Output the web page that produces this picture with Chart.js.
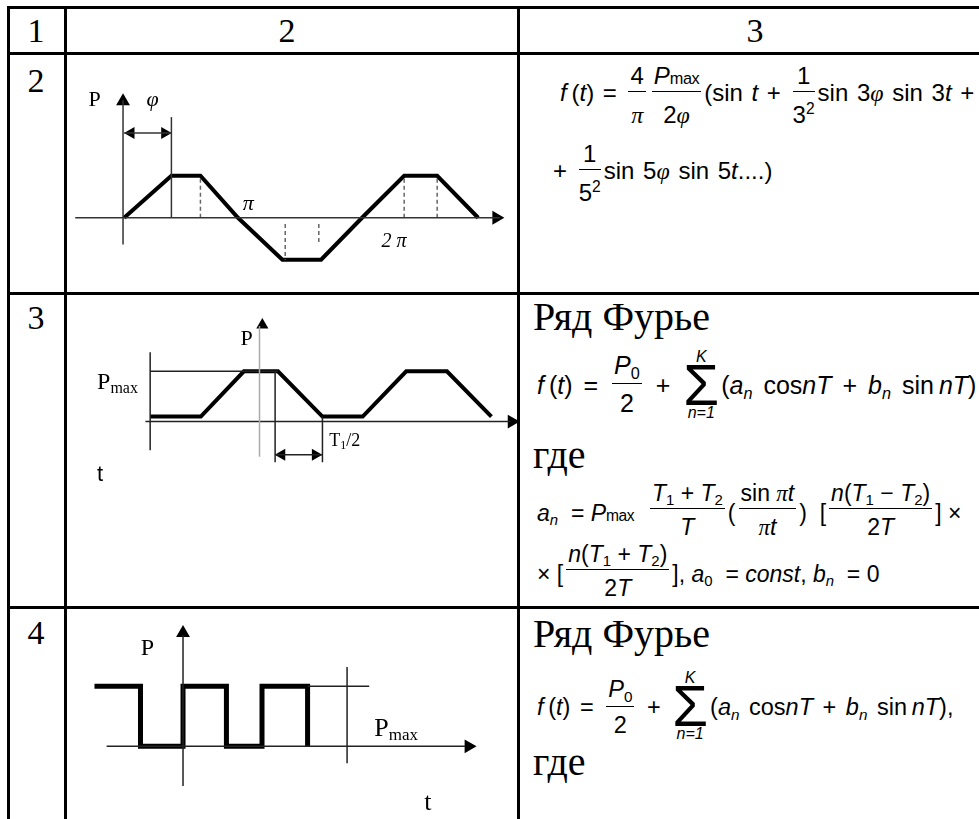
<!DOCTYPE html>
<html>
<head>
<meta charset="utf-8">
<script src="https://cdn.jsdelivr.net/npm/chart.js@4.4.1/dist/chart.umd.min.js"></script>
<style>
  html, body { margin: 0; padding: 0; background: #fff; width: 979px; height: 819px; overflow: hidden; position: relative; }
  .ln { position: absolute; background: #000; }
  .nm { position: absolute; font: 34px "Liberation Serif", "DejaVu Serif", serif; line-height: 34px; transform: translate(-50%, -50%); }
  .f { position: absolute; white-space: nowrap; line-height: 1; font-family: "Liberation Sans", Arial, sans-serif; font-size: 24px; word-spacing: 2px; }
  .f.tm { font-family: "Liberation Serif", "DejaVu Serif", serif; font-size: 40px; word-spacing: 0; }
  .f i { font-style: italic; }
  .g { font-family: "Liberation Serif", "DejaVu Serif", serif; font-style: italic; }
  .mx { font-size: 0.68em; letter-spacing: -0.5px; }
  sup { font-size: 0.65em; vertical-align: 0.55em; line-height: 0; }
  sub { font-size: 0.65em; vertical-align: -0.3em; line-height: 0; }
  .fr { display: inline-block; text-align: center; margin: 0 3px; word-spacing: 0; }
  .fr > span { display: block; line-height: 1; }
  .fr .n { border-bottom: 1px solid #000; padding: 0 2px; }
  .fa { vertical-align: -22px; } .fa .n { padding-bottom: 3px; } .fa .d { padding-top: 11px; }
  .fb { vertical-align: -18px; } .fb .n { padding-bottom: 5px; } .fb .d { padding-top: 7px; }
  .fc { vertical-align: -14px; } .fc .n { padding-bottom: 3px; } .fc .d { padding-top: 7px; }
  .sig { display: inline-block; text-align: center; vertical-align: -24px; margin: 0 2px; word-spacing: 0; }
  .sig > span { display: block; }
  .sig .k { font-size: 16px; line-height: 15px; font-style: italic; }
  .sig .S { font-size: 58px; line-height: 41px; }
  .bl { display: inline-block; width: 0; height: 0; vertical-align: baseline; }
  canvas { position: absolute; }
</style>
</head>
<body>
<div class="ln" style="left:7px;top:6px;width:972px;height:3px"></div>
<div class="ln" style="left:7px;top:52px;width:972px;height:3px"></div>
<div class="ln" style="left:7px;top:292px;width:972px;height:3px"></div>
<div class="ln" style="left:7px;top:606px;width:972px;height:3px"></div>
<div class="ln" style="left:7px;top:6px;width:3px;height:813px"></div>
<div class="ln" style="left:64px;top:6px;width:3px;height:813px"></div>
<div class="ln" style="left:517px;top:6px;width:3px;height:813px"></div>

<div class="nm" style="left:36px;top:31px">1</div>
<div class="nm" style="left:287px;top:31px">2</div>
<div class="nm" style="left:755px;top:31px">3</div>
<div class="nm" style="left:36px;top:81px">2</div>
<div class="nm" style="left:36px;top:318px">3</div>
<div class="nm" style="left:36px;top:633px">4</div>

<!-- строка 2 -->
<div class="f" data-x="560" data-b="101"><i>f</i>&thinsp;(<i>t</i>) = <span class="fr fa"><span class="n">4</span><span class="d"><span class="g">π</span></span></span><span class="fr fa"><span class="n"><i>P</i><span class="mx">max</span></span><span class="d">2<span class="g">φ</span></span></span>(sin <i>t</i> + <span class="fr fa"><span class="n">1</span><span class="d">3<sup>2</sup></span></span>sin 3<span class="g">φ</span> sin 3<i>t</i> +</div>
<div class="f" data-x="553" data-b="179">+ <span class="fr fa"><span class="n">1</span><span class="d">5<sup>2</sup></span></span>sin 5<span class="g">φ</span> sin 5<i>t</i>....)</div>

<!-- строка 3 -->
<div class="f tm" data-x="533" data-b="330">Ряд Фурье</div>
<div class="f" data-x="537" data-b="394" style="font-size:25px;word-spacing:4px"><i>f</i>&thinsp;(<i>t</i>) = <span class="fr fb"><span class="n"><i>P</i><sub>0</sub></span><span class="d">2</span></span> + <span class="sig"><span class="k">K</span><span class="S">Σ</span><span class="k"><i>n</i>=1</span></span>(<i>a<sub>n</sub></i> cos<i>nT</i> + <i>b<sub>n</sub></i> sin&thinsp;<i>nT</i>)</div>
<div class="f tm" data-x="533" data-b="468">где</div>
<div class="f" data-x="537" data-b="521" style="font-size:23px;word-spacing:0"><i>a<sub>n</sub></i> &nbsp;= <i>P</i><span class="mx">max</span> &nbsp;<span class="fr fc"><span class="n"><i>T</i><sub>1</sub> + <i>T</i><sub>2</sub></span><span class="d"><i>T</i></span></span>(<span class="fr fc"><span class="n">sin <span class="g">π</span><i>t</i></span><span class="d"><span class="g">π</span><i>t</i></span></span>) &nbsp;[<span class="fr fc"><span class="n"><i>n</i>(<i>T</i><sub>1</sub> − <i>T</i><sub>2</sub>)</span><span class="d">2<i>T</i></span></span>] ×</div>
<div class="f" data-x="537" data-b="582" style="font-size:23px;word-spacing:0">× [<span class="fr fc"><span class="n"><i>n</i>(<i>T</i><sub>1</sub> + <i>T</i><sub>2</sub>)</span><span class="d">2<i>T</i></span></span>], <i>a</i><sub>0</sub> &nbsp;= <i>const</i>, <i>b<sub>n</sub></i> &nbsp;= 0</div>

<!-- строка 4 -->
<div class="f tm" data-x="533" data-b="647">Ряд Фурье</div>
<div class="f" data-x="537" data-b="715" style="font-size:23.5px;word-spacing:3px"><i>f</i>&thinsp;(<i>t</i>) = <span class="fr fb"><span class="n"><i>P</i><sub>0</sub></span><span class="d">2</span></span> + <span class="sig"><span class="k">K</span><span class="S">Σ</span><span class="k"><i>n</i>=1</span></span>(<i>a<sub>n</sub></i> cos<i>nT</i> + <i>b<sub>n</sub></i> sin&thinsp;<i>nT</i>),</div>
<div class="f tm" data-x="533" data-b="775">где</div>

<canvas id="c2" width="450" height="236" style="left:67px;top:55px"></canvas>
<canvas id="c3" width="470" height="308" style="left:67px;top:296px"></canvas>
<canvas id="c4" width="450" height="209" style="left:67px;top:610px"></canvas>

<script>
// строка 2: трапеция, t в долях π, P в долях Pmax
const trapT = [0, 0.415, 0.67, 1.0, 1.39, 1.73, 2.09, 2.46, 2.75, 3.11];
const trapP = [0, 1, 1, 0, -1, -1, 0, 1, 1, 0];
const trapThin = [[-0.43, 0, 3.3, 0], [-0.01, -0.64, -0.01, 2.8], [0.415, 0, 0.415, 2.4], [0, 2.02, 0.415, 2.02]];
const trapDash = [[0.67, 0, 0.67, 1], [1.415, -0.15, 1.415, -1], [1.71, -0.15, 1.71, -0.65], [2.46, 0, 2.46, 1], [2.75, 0, 2.75, 1]];
const trapArrows = [[3.27, 0, 90, 8], [-0.01, 2.78, 0, 8], [0.06, 2.02, -90, 7], [0.356, 2.02, 90, 7]];
const trapLabels = [["P", -0.26, 2.84], ["φ", 0.25, 2.84], ["π", 1.09, 0.36], ["2 π", 2.37, -0.53]];

// строка 3: трапеция с постоянной составляющей, t в долях T1/2
const plateauT = [-2.31, -1.24, -0.33, 0.39, 1.33, 2.18, 3.10, 3.96, 4.90];
const plateauP = [0.1, 0.1, 1, 1, 0.1, 0.1, 1, 1, 0.1];
const plateauThin = [[-2.41, 0, 5.3, 0], [-2.31, 1.38, -2.31, -0.57], [-2.31, 1, 0.39, 1], [0.33, 1, 0.33, -0.81], [1.33, 0.1, 1.33, -0.81], [0.33, -0.66, 1.33, -0.66]];
const plateauGrey = [[0, -0.7, 0, 1.9]];
const plateauArrows = [[5.33, 0, 90, 8], [0.06, 1.92, 0, 7], [0.47, -0.66, -90, 7], [1.18, -0.66, 90, 7]];
const plateauLabels = [["P", -0.27, 1.66], ["P_{max}", -3.0, 0.81], ["T_{1}/2", 1.8, -0.36], ["t", -3.37, -1.04]];

// строка 4: прямоугольные импульсы
const pulseT = [-2.04, -0.98, 0, 1.0, 1.82, 2.87];
const pulseP = [1, 0, 1, 0, 1, 0];
const pulseThin = [[-1.76, 0, 6.5, 0], [0, -0.66, 0, 1.85], [2.87, 1, 4.29, 1], [3.78, 1.32, 3.78, -0.28]];
const pulseArrows = [[6.58, 0, 90, 8], [0, 1.89, 0, 8]];
const pulseLabels = [["P", -0.82, 1.65], ["P_{max}", 4.91, 0.32], ["t", 5.64, -0.91]];

function pts(xs, ys) { return xs.map((x, i) => ({ x: x, y: ys[i] })); }

function segSets(list, color, width, dash) {
  return list.map(s => ({
    data: [{ x: s[0], y: s[1] }, { x: s[2], y: s[3] }],
    showLine: true, borderColor: color, borderWidth: width, borderDash: dash || [],
    pointRadius: 0, clip: false
  }));
}

function arrowSet(list) {
  return {
    data: list.map(a => ({ x: a[0], y: a[1] })),
    showLine: false, pointStyle: 'triangle',
    pointRadius: list.map(a => a[3]), pointRotation: list.map(a => a[2]),
    pointBackgroundColor: '#000', pointBorderColor: '#000', pointBorderWidth: 0, clip: false
  };
}

function labelPlugin(items, fonts) {
  return {
    id: 'diagLabels',
    afterDatasetsDraw(chart) {
      const ctx = chart.ctx, sx = chart.scales.x, sy = chart.scales.y;
      ctx.save();
      ctx.fillStyle = '#000';
      ctx.textBaseline = 'alphabetic';
      items.forEach((l, i) => {
        const f = fonts[i];
        const m = /^(.*?)_\{(.*?)\}(.*)$/.exec(l[0]);
        const parts = m ? [[m[1], 1, 0], [m[2], 0.65, 0.18], [m[3], 1, 0]] : [[l[0], 1, 0]];
        let w = 0;
        parts.forEach(p => { ctx.font = f.style + ' ' + Math.round(f.size * p[1]) + 'px ' + f.family; p.push(ctx.measureText(p[0]).width); w += p[3]; });
        let x = sx.getPixelForValue(l[1]) - w / 2;
        const base = sy.getPixelForValue(l[2]) + f.size * 0.33;
        parts.forEach(p => {
          ctx.font = f.style + ' ' + Math.round(f.size * p[1]) + 'px ' + f.family;
          ctx.fillText(p[0], x, base + p[2] * f.size);
          x += p[3];
        });
      });
      ctx.restore();
    }
  };
}

function diagram(id, xr, yr, datasets, labels, fonts) {
  new Chart(document.getElementById(id), {
    type: 'scatter',
    data: { datasets: datasets },
    options: {
      responsive: false, animation: false,
      layout: { padding: 0 },
      plugins: { legend: { display: false }, tooltip: { enabled: false } },
      scales: {
        x: { type: 'linear', min: xr[0], max: xr[1], display: false, bounds: 'data' },
        y: { type: 'linear', min: yr[0], max: yr[1], display: false, bounds: 'data' }
      },
      elements: { line: { tension: 0 } }
    },
    plugins: [labelPlugin(labels, fonts)]
  });
}

const serif = '"Liberation Serif", "DejaVu Serif", serif', sans = '"Liberation Sans", sans-serif';

diagram('c2', [-0.432, 3.381], [-1.556, 3.689], [
  ...segSets(trapThin, '#333', 1.5),
  ...segSets(trapDash, '#666', 1.5, [4, 3]),
  { data: pts(trapT, trapP), showLine: true, borderColor: '#000', borderWidth: 4, pointRadius: 0, clip: false },
  arrowSet(trapArrows)
], trapLabels, [
  { style: 'normal', size: 22, family: serif },
  { style: 'italic', size: 22, family: serif },
  { style: 'italic', size: 22, family: serif },
  { style: 'italic', size: 20, family: serif }
]);

diagram('c3', [-3.898, 5.694], [-3.472, 2.34], [
  ...segSets(plateauGrey, '#aaa', 1.5),
  ...segSets(plateauThin, '#222', 1.5),
  { data: pts(plateauT, plateauP), showLine: true, borderColor: '#000', borderWidth: 4, pointRadius: 0, clip: false },
  arrowSet(plateauArrows)
], plateauLabels, [
  { style: 'normal', size: 22, family: serif },
  { style: 'normal', size: 24, family: serif },
  { style: 'normal', size: 18, family: serif },
  { style: 'normal', size: 22, family: sans }
]);

diagram('c4', [-2.489, 7.511], [-1.077, 2.138], [
  ...segSets(pulseThin, '#222', 1.5),
  { data: pts(pulseT, pulseP), showLine: true, stepped: 'before', borderColor: '#000', borderWidth: 5, pointRadius: 0, clip: false },
  arrowSet(pulseArrows)
], pulseLabels, [
  { style: 'normal', size: 24, family: serif },
  { style: 'normal', size: 26, family: serif },
  { style: 'normal', size: 26, family: serif }
]);

// ставим строки формул по базовой линии
document.querySelectorAll('.f').forEach(el => {
  const mk = document.createElement('span');
  mk.className = 'bl';
  el.appendChild(mk);
  el.style.left = el.dataset.x + 'px';
  el.style.top = (el.dataset.b - mk.offsetTop) + 'px';
});
</script>
</body>
</html>
